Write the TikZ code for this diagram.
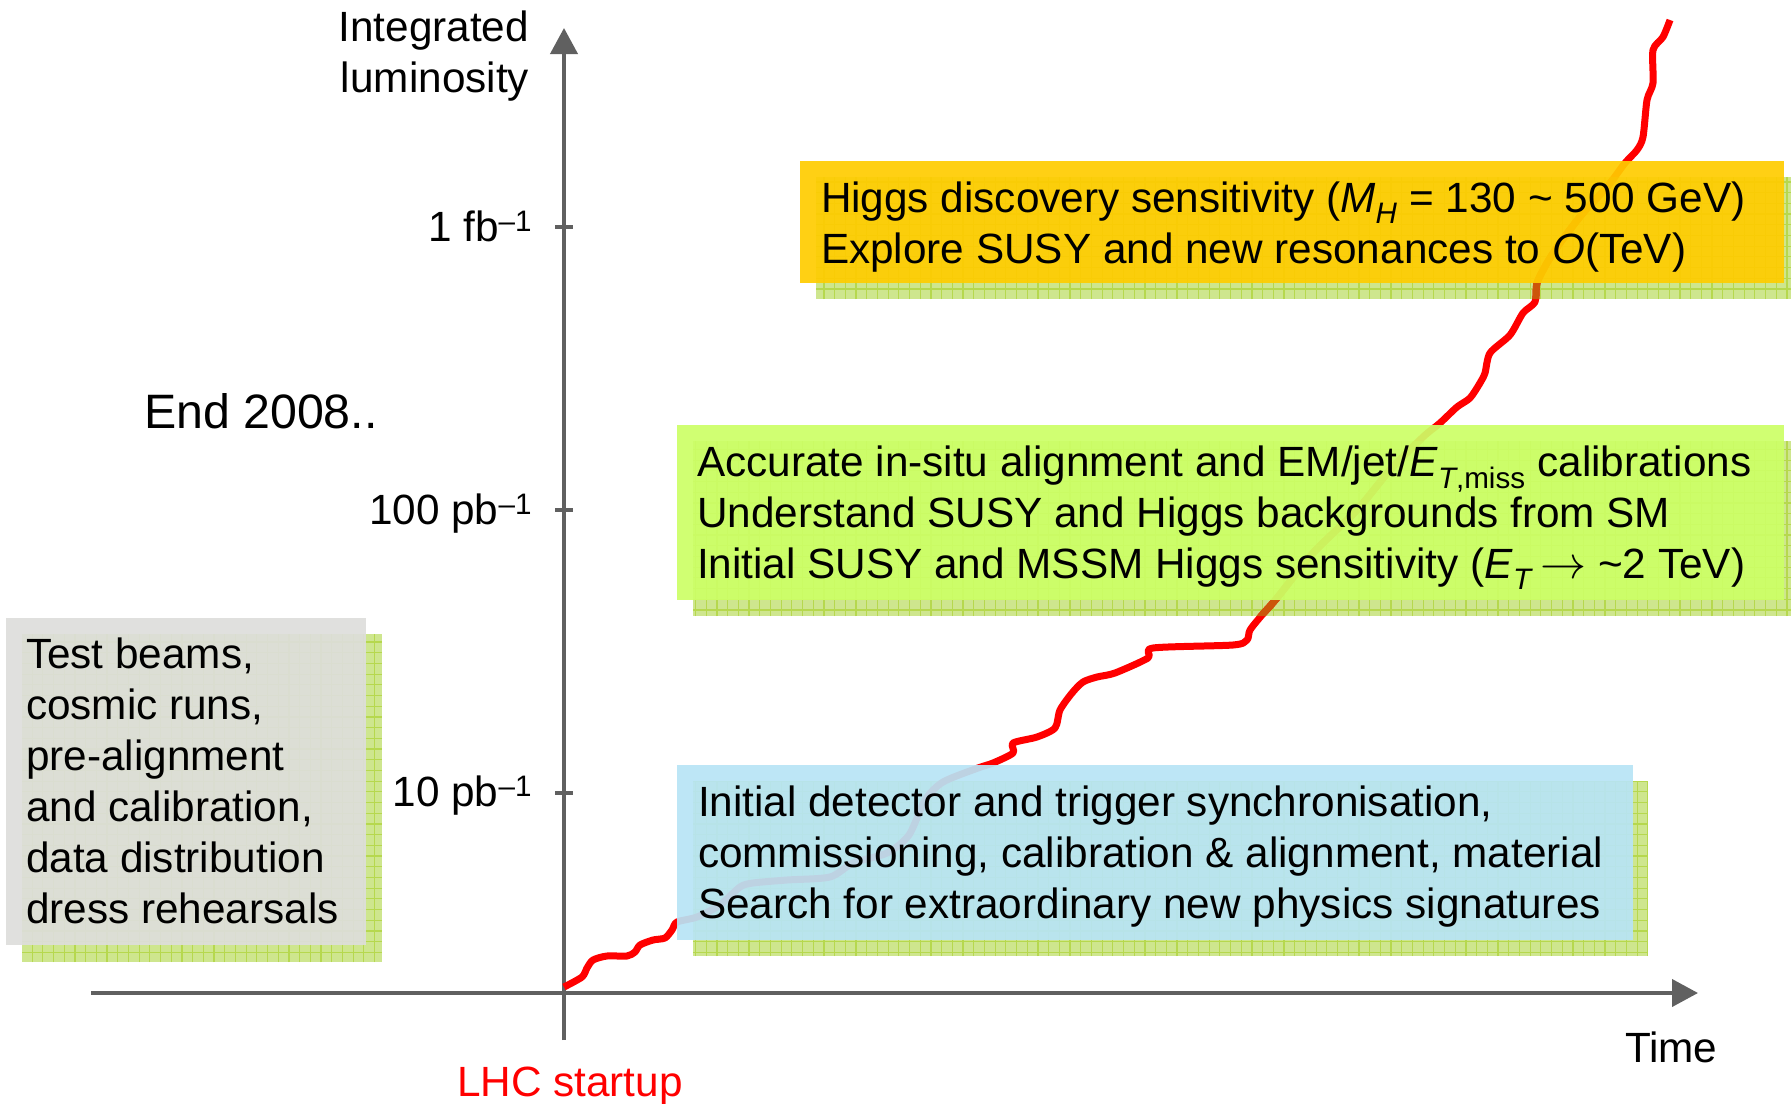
\documentclass[tikz,border=0pt]{standalone}
\usepackage{fontspec}
\setmainfont{Liberation Sans}
\usetikzlibrary{arrows.meta}
\definecolor{axisgray}{RGB}{96,96,96}
\definecolor{shadowgreen}{RGB}{206,230,142}
\definecolor{shadowgrid}{RGB}{182,216,78}
\definecolor{boxgray}{RGB}{222,222,220}
\definecolor{boxblue}{RGB}{184,228,246}
\definecolor{boxlime}{RGB}{204,255,102}
\definecolor{boxorange}{RGB}{255,204,0}
\definecolor{curvered}{RGB}{255,0,0}
\definecolor{curvebrown}{RGB}{204,85,10}
\newcommand{\bigfont}{\fontsize{42.3}{51}\selectfont}
\newcommand{\lumicurve}[1]{\draw[#1] plot[smooth,tension=0.45] coordinates {
 (564,987) (582,977) (587,968) (593,960) (607,956) (627,956) (635,952) (640,945)
 (653,940) (665,938) (672,930) (677,922) (697,917) (720,905) (740,887) (753,883)
 (787,880) (830,877) (853,863) (887,853) (909,835) (925,800) (943,782) (978,768)
 (993,763) (1013,753) (1013,743) (1037,737) (1055,728) (1060,710) (1072,693)
 (1083,682) (1097,677) (1115,673) (1148,658) (1153,648) (1233,645) (1247,640)
 (1250,630) (1262,615) (1277,598) (1313,553) (1357,510) (1390,470) (1423,437)
 (1440,423) (1457,407) (1470,398) (1480,383) (1485,373) (1490,353) (1510,335)
 (1523,313) (1535,302) (1537,283) (1547,263) (1560,243) (1583,213) (1607,187)
 (1625,163) (1637,150) (1643,137) (1647,100) (1653,83) (1653,50) (1663,37) (1670,20)};}
\tikzset{
  shadowbox/.style={rectangle, fill=shadowgreen, draw=none, inner sep=0pt, outer sep=0pt, anchor=north west},
  frontbox/.style={rectangle, draw=none, inner sep=0pt, outer sep=0pt, anchor=north west, fill opacity=0.92},
  boxtext/.style={font=\bigfont, align=left, anchor=base west, inner sep=0pt, outer sep=0pt},
  lbl/.style={font=\bigfont, inner sep=0pt, outer sep=0pt},
  axisline/.style={draw=axisgray, line width=4pt},
  curveline/.style={draw=curvered, line width=7pt, line join=round, line cap=butt},
  gridlines/.style={draw=shadowgrid, line width=1.2pt, step=10.7pt}
}
\begin{document}
\begin{tikzpicture}[x=1pt,y=-1pt]
\useasboundingbox[fill=white] (0,0) rectangle (1791,1103);

% shadows
\node[shadowbox, minimum width=360pt, minimum height=328pt] (gshadow) at (22,634) {};
\node[shadowbox, minimum width=955pt, minimum height=175pt] (bshadow) at (693,781) {};
\node[shadowbox, minimum width=1098pt, minimum height=175pt] (lshadow) at (693,441) {};
\node[shadowbox, minimum width=975pt, minimum height=122pt] (oshadow) at (816,177) {};
\foreach \s in {gshadow,bshadow,lshadow,oshadow}{
  \begin{scope}
    \clip (\s.north west) rectangle (\s.south east);
    \draw[gridlines] (\s.north west) grid (\s.south east);
  \end{scope}
}

% axes
\coordinate (ybot) at (564,1040);
\coordinate (ytop) at (564,28);
\coordinate (xleft) at (91,993);
\coordinate (xright) at (1698,993);
\draw[axisline, -{Triangle[length=26pt,width=27pt]}] (ybot) -- (ytop);
\draw[axisline, -{Triangle[length=26pt,width=27pt]}] (xleft) -- (xright);
\coordinate (t1a) at (555,227); \coordinate (t1b) at (573,227);
\coordinate (t2a) at (555,510); \coordinate (t2b) at (573,510);
\coordinate (t3a) at (555,793); \coordinate (t3b) at (573,793);
\draw[axisline] (t1a) -- (t1b);
\draw[axisline] (t2a) -- (t2b);
\draw[axisline] (t3a) -- (t3b);

% luminosity curve
\lumicurve{curveline}
\begin{scope}
  \clip (lshadow.north west) rectangle (lshadow.south east)
        (oshadow.north west) rectangle (oshadow.south east);
  \lumicurve{curveline, draw=curvebrown}
\end{scope}

% front boxes
\node[frontbox, fill=boxgray, minimum width=360pt, minimum height=327pt] (gbox) at (6,618) {};
\node[frontbox, fill=boxblue, minimum width=956pt, minimum height=175pt] (bbox) at (677,765) {};
\node[frontbox, fill=boxlime, minimum width=1107pt, minimum height=175pt] (lbox) at (677,425) {};
\node[frontbox, fill=boxorange, minimum width=984pt, minimum height=122pt] (obox) at (800,161) {};

% box texts (anchor = baseline of last line)
\node[boxtext] (gtext) at (26,923) {Test beams,\\cosmic runs,\\pre-alignment\\and calibration,\\data distribution\\dress rehearsals};
\node[boxtext] (btext) at (698,918) {Initial detector and trigger synchronisation,\\commissioning, calibration \& alignment, material\\Search for extraordinary new physics signatures};
\node[boxtext] (ltext) at (697,578) {Accurate in-situ alignment and EM/jet/\textit{E}\textsubscript{\textit{T},miss} calibrations\\Understand SUSY and Higgs backgrounds from SM\\Initial SUSY and MSSM Higgs sensitivity (\textit{E}\textsubscript{\textit{T}}\,\scalebox{1.85}{$\rightarrow$} \textasciitilde2 TeV)};
\node[boxtext] (otext) at (821,263) {Higgs discovery sensitivity (\textit{M}\textsubscript{\textit{H}} = 130 \textasciitilde{} 500 GeV)\\Explore SUSY and new resonances to \textit{O}(TeV)};

% axis labels
\node[lbl, align=right, anchor=base east] (ylabel) at (529,92) {Integrated\\luminosity};
\node[lbl, anchor=base east] (l1) at (532,241) {1 fb\textsuperscript{–1}};
\node[lbl, anchor=base east] (l2) at (532,524) {100 pb\textsuperscript{–1}};
\node[lbl, anchor=base east] (l3) at (532,806) {10 pb\textsuperscript{–1}};
\node[lbl, font=\fontsize{48.3}{58}\selectfont, anchor=base west] (endlbl) at (144,428) {End 2008..};
\node[lbl, anchor=base west] (timelbl) at (1625,1062) {Time};
\node[lbl, anchor=base west, text=curvered] (lhclbl) at (457,1096) {LHC startup};
\end{tikzpicture}
\end{document}
